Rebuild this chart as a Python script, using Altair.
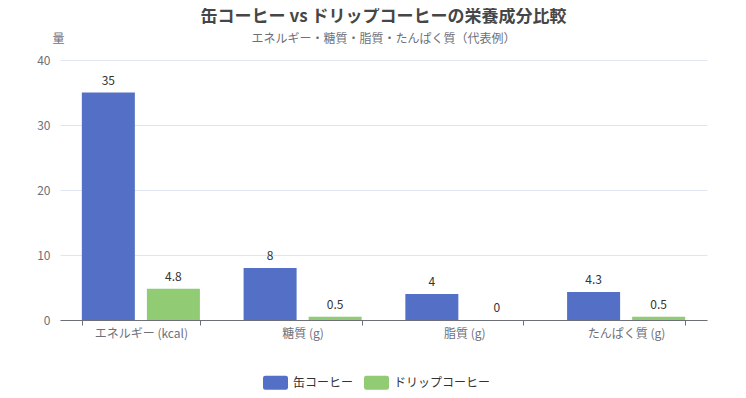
import altair as alt
import pandas as pd

categories = ["エネルギー (kcal)", "糖質 (g)", "脂質 (g)", "たんぱく質 (g)"]
series = ["缶コーヒー", "ドリップコーヒー"]
canned = [35, 8, 4, 4.3]
drip = [4.8, 0.5, 0, 0.5]
colors = ["#5470c6", "#91cc75"]
y_ticks = [0, 10, 20, 30, 40]

rows = []
for c, a, b in zip(categories, canned, drip):
    rows.append({"cat": c, "series": series[0], "value": a, "label": f"{a:g}"})
    rows.append({"cat": c, "series": series[1], "value": b, "label": f"{b:g}"})
df = pd.DataFrame(rows)

FONT = "Noto Sans CJK JP"
rounded = ("M-0.82,-0.56 H0.82 Q1,-0.56 1,-0.38 V0.38 Q1,0.56 0.82,0.56 "
           "H-0.82 Q-1,0.56 -1,0.38 V-0.38 Q-1,-0.56 -0.82,-0.56 Z")

x = alt.X("cat:N", sort=categories, title=None,
          scale=alt.Scale(paddingInner=0.27, paddingOuter=0.135),
          axis=alt.Axis(labelAngle=0, tickBand="extent", domainColor="#6E7079",
                        tickColor="#6E7079", tickSize=5, labelColor="#6E7079",
                        labelFontSize=12, labelPadding=3, grid=False))
xo = alt.XOffset("series:N", sort=series,
                 scale=alt.Scale(paddingInner=0.185, paddingOuter=0))
y = alt.Y("value:Q", scale=alt.Scale(domain=[0, 40]),
          axis=alt.Axis(values=y_ticks, title="量", titleAngle=0, titleAlign="center",
                        titleBaseline="middle", titleX=-2, titleY=-22,
                        titleColor="#6E7079", titleFontSize=12, titleFontWeight="normal",
                        ticks=False, domain=False, labelColor="#6E7079",
                        labelFontSize=12, labelPadding=10, gridColor="#E0E6F1"))

bars = alt.Chart(df).mark_bar().encode(
    x=x, xOffset=xo, y=y,
    color=alt.Color("series:N", sort=series,
                    scale=alt.Scale(domain=series, range=colors),
                    legend=alt.Legend(title=None, orient="none", direction="horizontal",
                                      legendX=203, legendY=310, symbolType=rounded,
                                      symbolSize=625, symbolStrokeWidth=0,
                                      labelFontSize=12, labelColor="#333333",
                                      labelOffset=5, columnPadding=10)),
)
text = alt.Chart(df).mark_text(baseline="bottom", dy=-5, fontSize=12, color="#333333").encode(
    x=x, xOffset=xo, y=y, text="label:N"
)

chart = (bars + text).properties(
    width=647, height=260,
    title=alt.TitleParams(text="缶コーヒー vs ドリップコーヒーの栄養成分比較",
                          subtitle="エネルギー・糖質・脂質・たんぱく質（代表例）",
                          anchor="middle", fontSize=17, fontWeight="bold", color="#464646",
                          subtitleFontSize=12, subtitleColor="#6E7079", subtitlePadding=8,
                          offset=-14),
    autosize=alt.AutoSizeParams(type="none"),
    padding={"left": 52, "top": 52, "right": 31, "bottom": 70},
).configure(font=FONT).configure_view(stroke=None)

chart.save("out.html", embed_options={"renderer": "svg", "actions": False})
